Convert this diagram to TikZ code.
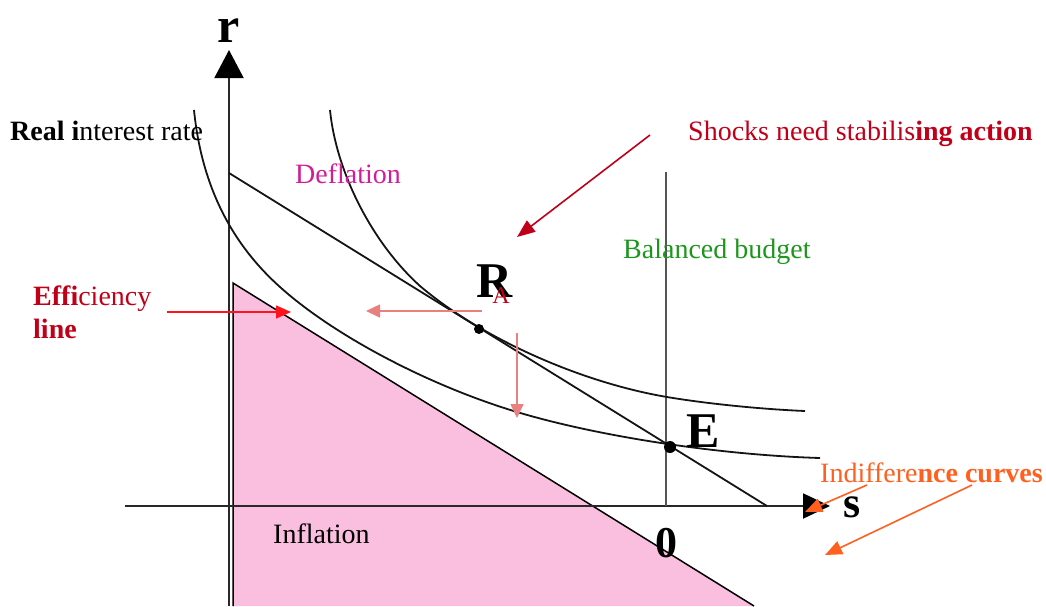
\documentclass[tikz,border=0pt]{standalone}
\usepackage{fontspec}
\setmainfont{Liberation Serif}
\usetikzlibrary{arrows.meta}
\definecolor{pinkfill}{RGB}{250,190,222}
\definecolor{shockred}{RGB}{192,0,24}
\definecolor{effred}{RGB}{255,20,30}
\definecolor{lightred}{RGB}{232,128,128}
\definecolor{deflmag}{RGB}{210,30,150}
\definecolor{budgreen}{RGB}{30,150,30}
\definecolor{indorange}{RGB}{255,96,32}
\definecolor{axisgray}{RGB}{40,40,40}
\definecolor{vgray}{RGB}{85,85,85}
\tikzset{
  lbl/.style={inner sep=0pt, font=\fontsize{28}{32}\selectfont},
  biglbl/.style={inner sep=0pt, font=\fontsize{50}{54}\selectfont\bfseries},
  curve/.style={draw=black!92, line width=1.8pt},
  axisline/.style={draw=axisgray, line width=2pt},
  dotmark/.style={circle, fill=black, inner sep=0pt},
  shockarrow/.style={draw=shockred, line width=1.6pt, -{Triangle[length=18pt,width=14pt]}},
  effarrow/.style={draw=effred, line width=1.4pt, -{Triangle[length=15pt,width=13pt]}},
  lightarrow/.style={draw=lightred, line width=1.6pt, -{Triangle[length=14pt,width=13pt]}},
  orangearrow/.style={draw=indorange, line width=1.6pt, -{Triangle[length=17pt,width=14pt]}}
}
\begin{document}
\begin{tikzpicture}[x=1pt,y=-1pt]
\useasboundingbox (0,0) rectangle (1046,606);
% efficiency region
\coordinate (t1) at (233,283);
\coordinate (t2) at (233,606);
\coordinate (t3) at (754,606);
\fill[pinkfill] (t1) -- (t2) -- (t3) -- cycle;
\draw[line width=1.5pt, black] (t2) -- (t1) -- (t3);
% axes
\coordinate (rbot) at (229,606);
\coordinate (rtop) at (229,50);
\coordinate (sleft) at (125,506);
\coordinate (sright) at (830,506);
\draw[axisline, -{Triangle[length=28pt,width=29pt,fill=black,color=black]}] (rbot) -- (rtop);
\draw[axisline, -{Triangle[length=27pt,width=25pt,fill=black,color=black]}] (sleft) -- (sright);
% balanced budget line
\coordinate (bbtop) at (666,172);
\coordinate (bbbot) at (666,506);
\draw[draw=vgray, line width=2.4pt] (bbtop) -- (bbbot);
% budget (shock) line
\coordinate (b1) at (229,173);
\coordinate (b2) at (767,506);
\draw[black!92, line width=1.8pt] (b1) -- (b2);
% indifference curves
\draw[curve] (194,110) .. controls (201.4,183.7) and (229.8,242) .. (280,287)
  .. controls (333.9,335.5) and (428.7,385.5) .. (517,412)
  .. controls (599,436.6) and (720,455) .. (820,458);
\draw[curve] (330,110) .. controls (336.2,172.4) and (372.2,242.8) .. (420,286)
  .. controls (480.9,337.8) and (579.7,382.2) .. (667,397)
  .. controls (706,403.6) and (761.2,409.2) .. (805,411);
% points
\node[dotmark, minimum size=10pt] (Rdot) at (479,329) {};
\node[dotmark, minimum size=12pt] (Edot) at (670,447) {};
% labels
\node[biglbl, anchor=base] (rlab) at (229,42) {r};
\node[biglbl, anchor=base, font=\fontsize{44}{48}\selectfont\bfseries] (slab) at (852,517) {s};
\node[biglbl, anchor=base] (Rlab) at (495,297) {R};
\node[inner sep=0pt, anchor=base, text=shockred, font=\fontsize{24}{26}\selectfont] (Alab) at (501,303) {A};
\node[biglbl, anchor=base] (Elab) at (703,447) {E};
\node[biglbl, anchor=base, font=\fontsize{44}{48}\selectfont\bfseries] (zlab) at (666,557) {0};
\node[lbl, anchor=base west] (real) at (10,140) {\textbf{Real i}nterest rate};
\node[lbl, anchor=base west, text=shockred] (shock) at (688,140) {Shocks need stabilis\textbf{ing action}};
\node[lbl, anchor=base west, text=deflmag] (defl) at (295,183) {Deflation};
\node[lbl, anchor=base west, text=budgreen] (bal) at (623,258) {Balanced budget};
\node[lbl, anchor=base west, text=shockred] (eff1) at (33,305) {\textbf{Effi}ciency};
\node[lbl, anchor=base west, text=shockred] (eff2) at (33,338) {\textbf{line}};
\node[lbl, anchor=base west] (infl) at (273,543) {Inflation};
\node[lbl, anchor=base west, text=indorange] (indiff) at (820,482) {Indiffere\textbf{nce curves}};
% arrows
\coordinate (sh1) at (650,135);
\coordinate (sh2) at (517,237);
\draw[shockarrow] (sh1) -- (sh2);
\coordinate (ef1) at (167,312);
\coordinate (ef2) at (291,312);
\draw[effarrow] (ef1) -- (ef2);
\coordinate (h1) at (482,311);
\coordinate (h2) at (366,311);
\draw[lightarrow] (h1) -- (h2);
\coordinate (v1) at (517,333);
\coordinate (v2) at (517,418);
\draw[lightarrow] (v1) -- (v2);
\coordinate (o1) at (867,485);
\coordinate (o2) at (805,512);
\draw[orangearrow] (o1) -- (o2);
\coordinate (o3) at (972,485);
\coordinate (o4) at (825,555);
\draw[orangearrow] (o3) -- (o4);
\end{tikzpicture}
\end{document}
